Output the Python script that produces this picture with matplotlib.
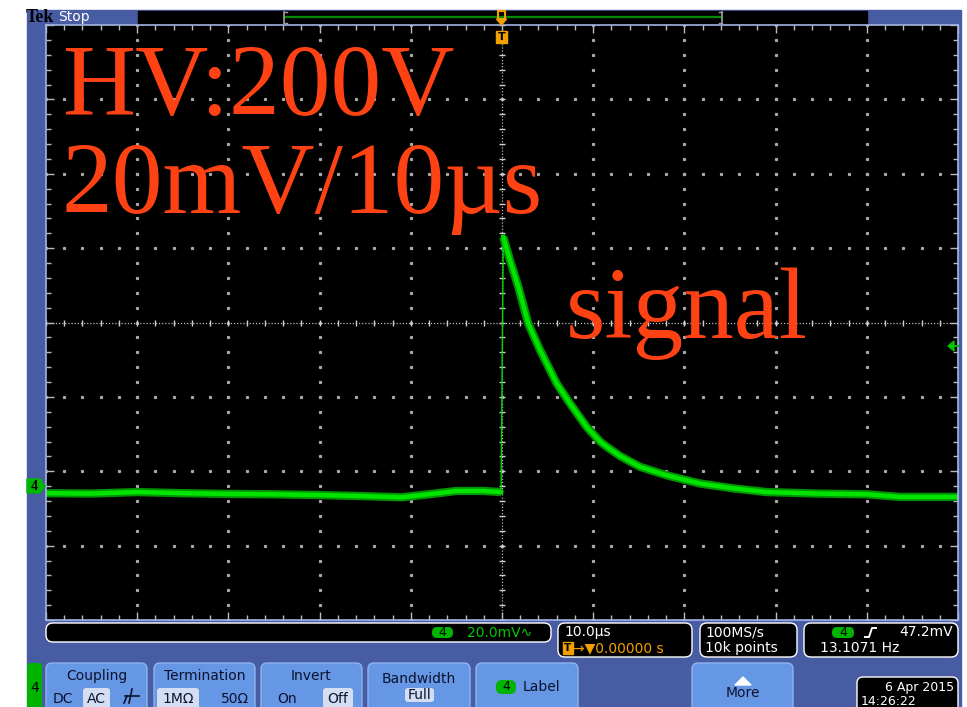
import numpy as np
import matplotlib.pyplot as plt
from matplotlib.patches import Rectangle, FancyBboxPatch, Polygon

# trace: time in us, voltage in mV (ch4, 20 mV/div, 10 us/div)
t_pre = [-50, -45, -40, -35, -30, -25, -20, -15, -11, -8, -5, -2, -0.1]
v_pre = [-1.9, -2.0, -1.6, -1.9, -2.1, -2.2, -2.4, -2.7, -3.0, -2.2, -1.3, -1.3, -1.6]
t_post = [0.14, 0.88, 1.79, 2.88, 4.17, 6.00, 7.46, 9.29, 10.75, 11.48, 12.94,
          15.13, 18.06, 21.71, 25.36, 29.02, 34.51, 39.99, 43.64, 47.26, 50]
v_post = [67.0, 60.7, 53.6, 43.7, 36.6, 27.6, 22.2, 15.9, 12.0, 10.6, 8.1,
          5.2, 2.9, 0.7, -0.6, -1.6, -2.0, -2.2, -2.9, -2.9, -2.9]

notes = ["HV:200V", "20mV/10µs"]
note_signal = "signal"
ch_scale = "20.0mV∿"
timebase = "10.0µs"
trig_pos = "→▼0.00000 s"
sample_rate = "100MS/s"
record_len = "10k points"
trig_level = "47.2mV"
trig_freq = "13.1071 Hz"
date_str = "6 Apr 2015"
time_str = "14:26:22"

W, H = 967, 707
BLUE = '#485ca4'
BTN = '#6697e4'
BTN_TXT = '#0c1230'
HILITE = '#d4def2'
GREEN = '#00b400'
ORANGE = '#f0a000'
RED = '#ff4214'
UIFONT = 'DejaVu Sans'

fig = plt.figure(figsize=(W / 100, H / 100), dpi=100)
fig.patch.set_facecolor('white')

# background panel in pixel coordinates
ui = fig.add_axes([0, 0, 1, 1], zorder=0)
ui.set_xlim(0, W)
ui.set_ylim(H, 0)
ui.axis('off')
ui.add_patch(Rectangle((27, 10), 934, 697, color=BLUE))


def rbox(ax, x0, y0, x1, y1, fc, ec='none', r=5, lw=1):
    ax.add_patch(FancyBboxPatch((x0, y0), x1 - x0, y1 - y0,
                                boxstyle=f"round,pad=0,rounding_size={r}",
                                fc=fc, ec=ec, lw=lw))


# top status bar
ui.text(26, 17.5, 'Tek', fontsize=13, fontweight='bold', color='black',
        va='center', family='Liberation Serif')
ui.text(58, 17.5, 'Stop', fontsize=10, color='white', va='center', family=UIFONT)
ui.add_patch(Rectangle((138, 11), 729, 13, color='black'))
ui.plot([285, 721], [16.5, 16.5], color='#008a00', lw=1.6)
for xb, d in [(284, 3), (722, -3)]:
    ui.plot([xb, xb], [12, 23], color='#a0a0a0', lw=1.2)
    ui.plot([xb, xb + d], [12, 12], color='#a0a0a0', lw=1)
    ui.plot([xb, xb + d], [23, 23], color='#a0a0a0', lw=1)

# scope graticule
sc = fig.add_axes([46 / W, 1 - 620 / H, 912 / W, 595 / H], zorder=1)
sc.set_facecolor('black')
sc.set_xlim(-50, 50)
sc.set_ylim(-36, 124)
xmaj = np.arange(-50, 51, 10)
ymaj = np.arange(-36, 125, 20)
xmin = np.arange(-50, 50.1, 2)
ymin = np.arange(-36, 124.1, 4)
yc = 44
for x in xmaj[1:-1]:
    if x == 0:
        continue
    sc.plot(np.full_like(ymin, x), ymin, ls='none', marker='s', ms=1.3, color='#a8a8a8')
for y in ymaj[1:-1]:
    if y == yc:
        continue
    sc.plot(xmin, np.full_like(xmin, y), ls='none', marker='s', ms=1.3, color='#a8a8a8')
sc.axvline(0, color='#bdbdbd', lw=0.9, ls=(0, (1, 1.5)))
sc.axhline(yc, color='#bdbdbd', lw=0.9, ls=(0, (1, 1.5)))
sc.plot(np.zeros_like(ymin), ymin, ls='none', marker='_', ms=5, mew=1, color='#d0d0d0')
sc.plot(xmin, np.full_like(xmin, yc), ls='none', marker='|', ms=5, mew=1, color='#d0d0d0')
sc.set_xticks(xmaj)
sc.set_xticks(xmin, minor=True)
sc.set_yticks(ymaj)
sc.set_yticks(ymin, minor=True)
sc.tick_params(which='both', direction='in', top=True, right=True, color='#bbbbbb',
               labelbottom=False, labelleft=False, width=1)
sc.tick_params(which='major', length=6)
sc.tick_params(which='minor', length=3.5)
for s in sc.spines.values():
    s.set_color('#a4b4e4')
    s.set_linewidth(1.2)

# waveform
for tt, vv in [(t_pre, v_pre), (t_post, v_post)]:
    sc.plot(tt, vv, color='#009400', lw=6, solid_joinstyle='round', solid_capstyle='butt')
    sc.plot(tt, vv, color='#00e400', lw=3.2, solid_joinstyle='round')
sc.plot([t_pre[-1], t_post[0]], [v_pre[-1], v_post[0]], color='#00d800', lw=1)

# overlay: markers and annotations
ov = fig.add_axes([0, 0, 1, 1], zorder=2)
ov.set_xlim(0, W)
ov.set_ylim(H, 0)
ov.axis('off')
ov.patch.set_alpha(0)

ov.text(62, 115, notes[0], family='Liberation Serif', fontsize=73, color=RED, va='baseline')
ov.text(62, 213, notes[1], family='Liberation Serif', fontsize=73, color=RED, va='baseline')
ov.text(566, 338, note_signal, family='Liberation Serif', fontsize=73, color=RED, va='baseline')

# trigger position markers
ov.add_patch(Rectangle((498, 11), 7, 8, fc='none', ec=ORANGE, lw=1.5))
ov.add_patch(Polygon([(496.5, 19), (506.5, 19), (501.5, 25)], color=ORANGE))
ov.add_patch(Rectangle((496, 31), 11, 12, color=ORANGE))
ov.text(501.5, 37.5, 'T', fontsize=8, fontweight='bold', color='black',
        ha='center', va='center', family=UIFONT)

# channel ground marker and trigger level arrow
ov.add_patch(Polygon([(27, 479), (40, 479), (45, 486), (40, 493), (27, 493)], color=GREEN))
ov.text(34, 486.5, '4', fontsize=10, fontweight='bold', color='black',
        ha='center', va='center', family='Liberation Serif')
ov.add_patch(Polygon([(948, 346), (954, 341), (954, 351)], color='#00c000'))
ov.plot([953, 958], [346, 346], color='#00c000', lw=1.5)

# readout boxes
rbox(ui, 46, 623, 551, 642, 'black', 'white', r=7)
rbox(ui, 432, 627, 453, 638, GREEN, r=5)
ui.text(442.5, 632.5, '4', fontsize=9, color='black', ha='center', va='center', family=UIFONT)
ui.text(467, 633, ch_scale, fontsize=10, color='#00c800', va='center', family=UIFONT)

rbox(ui, 558, 623, 692, 657, 'black', 'white', r=7)
ui.text(564, 632, timebase, fontsize=10, color='white', va='center', family=UIFONT)
ui.add_patch(Rectangle((563, 642), 10, 12, color=ORANGE))
ui.text(568, 648, 'T', fontsize=7.5, fontweight='bold', color='black', ha='center',
        va='center', family=UIFONT)
ui.text(573, 648, trig_pos, fontsize=10, color=ORANGE, va='center', family=UIFONT)

rbox(ui, 700, 623, 797, 657, 'black', 'white', r=7)
ui.text(705, 632, sample_rate, fontsize=10, color='white', va='center', family=UIFONT)
ui.text(705, 648, record_len, fontsize=10, color='white', va='center', family=UIFONT)

rbox(ui, 804, 623, 958, 657, 'black', 'white', r=7)
rbox(ui, 832, 627, 854, 638, GREEN, r=5)
ui.text(843, 632.5, '4', fontsize=9, color='black', ha='center', va='center', family=UIFONT)
ui.plot([865, 869, 872, 876], [637, 637, 628, 628], color='white', lw=1.4)
ui.text(953, 632, trig_level, fontsize=10, color='white', ha='right', va='center', family=UIFONT)
ui.text(820, 648, trig_freq, fontsize=10, color='white', va='center', family=UIFONT)

# soft buttons
buttons = [(46, 147, 'Coupling'), (154, 255, 'Termination'), (261, 362, 'Invert'),
           (368, 470, 'Bandwidth'), (476, 578, ''), (692, 793, '')]
for x0, x1, title in buttons:
    rbox(ui, x0, 663, x1, 720, BTN, '#8db3f0', r=6)
    if title:
        ty = 679 if title == 'Bandwidth' else 676
        ui.text((x0 + x1) / 2, ty, title, fontsize=10, color=BTN_TXT, ha='center',
                va='center', family=UIFONT)

for x0, x1, y0, y1 in [(83, 110, 688, 715), (157, 199, 688, 715), (323, 353, 688, 715),
                       (405, 434, 688, 702)]:
    rbox(ui, x0, y0, x1, y1, HILITE, r=3)
for x, y, s in [(63, 699, 'DC'), (96.5, 699, 'AC'), (178, 699, '1MΩ'), (235, 699, '50Ω'),
                (287, 699, 'On'), (338, 699, 'Off'), (419.5, 695, 'Full')]:
    ui.text(x, y, s, fontsize=10, color=BTN_TXT, ha='center', va='center', family=UIFONT)
# ground symbol
ui.plot([132, 129], [689, 703], color=BTN_TXT, lw=1.2)
ui.plot([125, 139], [696, 696], color=BTN_TXT, lw=1.2)
ui.plot([127, 124], [696, 703], color=BTN_TXT, lw=1.2)

rbox(ui, 496, 680, 516, 694, GREEN, r=6)
ui.text(506, 687, '4', fontsize=9, color='black', ha='center', va='center', family=UIFONT)
ui.text(541, 687, 'Label', fontsize=10, color=BTN_TXT, ha='center', va='center', family=UIFONT)
ui.add_patch(Polygon([(735, 685), (751, 685), (743, 677)], color='white'))
ui.text(743, 693, 'More', fontsize=10, color=BTN_TXT, ha='center', va='center', family=UIFONT)

rbox(ui, 27, 663, 42, 720, GREEN, r=4)
ui.text(34.5, 688, '4', fontsize=10, color='black', ha='center', va='center', family=UIFONT)

rbox(ui, 857, 677, 958, 720, 'black', 'white', r=6)
ui.text(954, 688, date_str, fontsize=9, color='white', ha='right', va='center', family=UIFONT)
ui.text(861, 701.5, time_str, fontsize=9, color='white', va='center', family=UIFONT)

fig.savefig('out.png', dpi=100, facecolor='white')
